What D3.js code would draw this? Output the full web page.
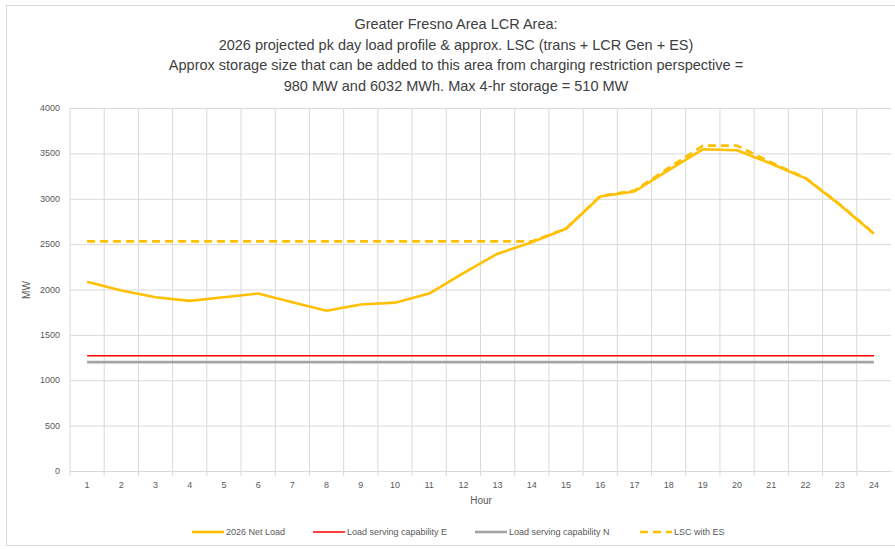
<!DOCTYPE html>
<html>
<head>
<meta charset="utf-8">
<script src="https://cdn.jsdelivr.net/npm/d3@7"></script>
<style>
  body { margin: 0; background: #fff; }
  text { font-family: "Liberation Sans", "DejaVu Sans", sans-serif; }
</style>
</head>
<body>
<svg></svg>
<script>
var width = 895;
var height = 549;

// data
var hours = ["1","2","3","4","5","6","7","8","9","10","11","12","13","14","15","16","17","18","19","20","21","22","23","24"];
var netLoad = [2085, 1990, 1915, 1875, 1915, 1955, 1860, 1765, 1835, 1855, 1955, 2180, 2395, 2520, 2670, 3025, 3080, 3315, 3545, 3535, 3385, 3225, 2935, 2615];
var lscE = [1270, 1270, 1270, 1270, 1270, 1270, 1270, 1270, 1270, 1270, 1270, 1270, 1270, 1270, 1270, 1270, 1270, 1270, 1270, 1270, 1270, 1270, 1270, 1270];
var lscN = [1200, 1200, 1200, 1200, 1200, 1200, 1200, 1200, 1200, 1200, 1200, 1200, 1200, 1200, 1200, 1200, 1200, 1200, 1200, 1200, 1200, 1200, 1200, 1200];
var lscES = [2530, 2530, 2530, 2530, 2530, 2530, 2530, 2530, 2530, 2530, 2530, 2530, 2530, 2530, 2670, 3030, 3090, 3340, 3585, 3585, 3400, 3230, 2940, 2620];
var yTicks = [0, 500, 1000, 1500, 2000, 2500, 3000, 3500, 4000];
var titleLines = [
  "Greater Fresno Area LCR Area:",
  "2026 projected pk day load profile & approx. LSC (trans + LCR Gen + ES)",
  "Approx storage size that can be added to this area from charging restriction perspective =",
  "980 MW and 6032 MWh. Max 4-hr storage = 510 MW"
];

var series = [
  {name: "2026 Net Load", values: netLoad, color: "#FFC000", w: 2.6, dash: null},
  {name: "Load serving capability E", values: lscE, color: "#FF0000", w: 1.5, dash: null},
  {name: "Load serving capability N", values: lscN, color: "#A5A5A5", w: 2.6, dash: null},
  {name: "LSC with ES", values: lscES, color: "#FFC000", w: 2.6, dash: "8,5"}
];

var svg = d3.select("svg")
  .attr("width", width)
  .attr("height", height);

// chart border
svg.append("rect")
  .attr("x", 6.5).attr("y", 5.5)
  .attr("width", 920).attr("height", 540)
  .attr("fill", "none")
  .attr("stroke", "#D9D9D9");

var plotLeft = 70, plotRight = 891, plotTop = 108, plotBottom = 471;

var x = d3.scaleBand().domain(hours).range([plotLeft, plotRight]);
var y = d3.scaleLinear().domain([0, 4000]).range([plotBottom, plotTop]);

// title
svg.append("g").selectAll("text")
  .data(titleLines)
  .enter().append("text")
  .attr("x", 456)
  .attr("y", function (d, i) { return 29 + i * 20.5; })
  .attr("text-anchor", "middle")
  .attr("font-size", 14.5)
  .attr("fill", "#404040")
  .text(function (d) { return d; });

// horizontal grid
var gy = svg.append("g")
  .attr("transform", "translate(" + plotLeft + ",0)")
  .call(d3.axisLeft(y).tickValues(yTicks).tickSize(-(plotRight - plotLeft)).tickFormat(""));
gy.select(".domain").remove();
gy.selectAll("line").attr("stroke", "#D9D9D9");

// vertical grid at category boundaries
svg.append("g").selectAll("line")
  .data(hours)
  .enter().append("line")
  .attr("x1", function (d) { return x(d); })
  .attr("x2", function (d) { return x(d); })
  .attr("y1", plotTop).attr("y2", plotBottom + 5)
  .attr("stroke", "#D9D9D9");

// y tick labels
svg.append("g").selectAll("text")
  .data(yTicks)
  .enter().append("text")
  .attr("x", 60)
  .attr("y", function (d) { return y(d) + 3; })
  .attr("text-anchor", "end")
  .attr("font-size", 9)
  .attr("fill", "#595959")
  .text(function (d) { return d; });

// x tick labels
var xa = svg.append("g")
  .attr("transform", "translate(0," + plotBottom + ")")
  .call(d3.axisBottom(x).tickSize(0).tickPadding(11));
xa.select(".domain").attr("stroke", "#D9D9D9");
xa.selectAll("text")
  .attr("font-size", 9)
  .attr("fill", "#595959")
  .attr("font-family", "Liberation Sans, sans-serif");

// axis titles
svg.append("text")
  .attr("transform", "translate(30,290) rotate(-90)")
  .attr("text-anchor", "middle")
  .attr("font-size", 10)
  .attr("fill", "#595959")
  .text("MW");

svg.append("text")
  .attr("x", 481).attr("y", 504)
  .attr("text-anchor", "middle")
  .attr("font-size", 10)
  .attr("fill", "#595959")
  .text("Hour");

// lines
var line = d3.line()
  .x(function (d, i) { return x(hours[i]) + x.bandwidth() / 2; })
  .y(function (d) { return y(d); });

var drawOrder = [1, 2, 3, 0];
drawOrder.forEach(function (k) {
  var s = series[k];
  svg.append("path")
    .datum(s.values)
    .attr("d", line)
    .attr("fill", "none")
    .attr("stroke", s.color)
    .attr("stroke-width", s.w)
    .attr("stroke-dasharray", s.dash)
    .attr("stroke-linejoin", "round");
});

// legend
var legendX = [192, 313, 475, 640];
var leg = svg.append("g").selectAll("g")
  .data(series)
  .enter().append("g")
  .attr("transform", function (d, i) { return "translate(" + legendX[i] + ",532)"; });
leg.append("line")
  .attr("x1", 0).attr("x2", 32)
  .attr("stroke", function (d) { return d.color; })
  .attr("stroke-width", function (d) { return d.w; })
  .attr("stroke-dasharray", function (d) { return d.dash; });
leg.append("text")
  .attr("x", 34).attr("y", 3)
  .attr("font-size", 9)
  .attr("fill", "#595959")
  .text(function (d) { return d.name; });
</script>
</body>
</html>
